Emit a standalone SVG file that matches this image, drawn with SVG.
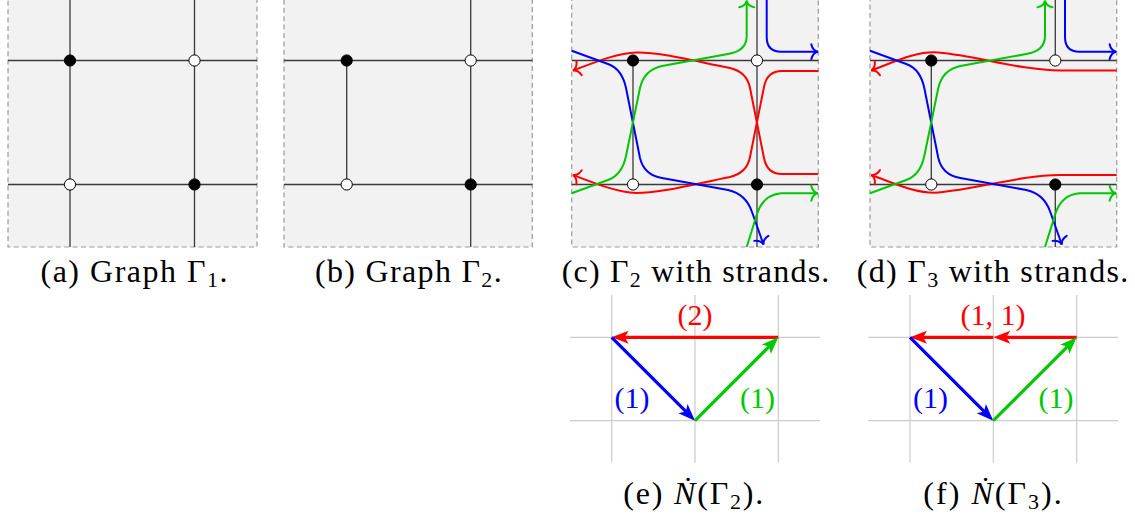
<svg xmlns="http://www.w3.org/2000/svg" width="1135" height="518" viewBox="0 0 1135 518">
<style>
.panel{fill:#f2f2f2;stroke:#9a9a9a;stroke-width:1.2;stroke-dasharray:5 3.4}
.edge{fill:none;stroke:#3a3a3a;stroke-width:1.3}
.vb{fill:#000;stroke:#000;stroke-width:1}
.vw{fill:#fff;stroke:#000;stroke-width:1}
.s{fill:none;stroke-width:2;stroke-linejoin:round}
.sr{stroke:#ff0000;marker-end:url(#toR)}
.sb{stroke:#0000ff;marker-end:url(#toB)}
.sg{stroke:#00c800;marker-end:url(#toG)}
.grid{fill:none;stroke:#cccccc;stroke-width:1.2}
.vec{fill:none;stroke-width:3.2}
.cap{font-family:"Liberation Serif","DejaVu Serif",serif;font-size:32px;fill:#000}
.lab{font-family:"Liberation Serif","DejaVu Serif",serif;font-size:30px;text-anchor:middle}
</style>
<defs>
<marker id="toR" viewBox="-8 -9 10 18" markerWidth="10" markerHeight="18" refX="0" refY="0" orient="auto" markerUnits="userSpaceOnUse"><path d="M-6.5 -7.5 C-5.5 -3 -2.5 -0.6 0 0 C-2.5 0.6 -5.5 3 -6.5 7.5" fill="none" stroke="#ff0000" stroke-width="2" stroke-linecap="round"/></marker>
<marker id="toB" viewBox="-8 -9 10 18" markerWidth="10" markerHeight="18" refX="0" refY="0" orient="auto" markerUnits="userSpaceOnUse"><path d="M-6.5 -7.5 C-5.5 -3 -2.5 -0.6 0 0 C-2.5 0.6 -5.5 3 -6.5 7.5" fill="none" stroke="#0000ff" stroke-width="2" stroke-linecap="round"/></marker>
<marker id="toG" viewBox="-8 -9 10 18" markerWidth="10" markerHeight="18" refX="0" refY="0" orient="auto" markerUnits="userSpaceOnUse"><path d="M-6.5 -7.5 C-5.5 -3 -2.5 -0.6 0 0 C-2.5 0.6 -5.5 3 -6.5 7.5" fill="none" stroke="#00c800" stroke-width="2" stroke-linecap="round"/></marker>
<marker id="stR" viewBox="-12 -7 20 14" markerWidth="20" markerHeight="14" refX="0" refY="0" orient="auto" markerUnits="userSpaceOnUse"><path d="M6 0 L-11 -6.5 L-7 0 L-11 6.5 Z" fill="#ff0000"/></marker>
<marker id="stB" viewBox="-12 -7 20 14" markerWidth="20" markerHeight="14" refX="0" refY="0" orient="auto" markerUnits="userSpaceOnUse"><path d="M6 0 L-11 -6.5 L-7 0 L-11 6.5 Z" fill="#0000ff"/></marker>
<marker id="stG" viewBox="-12 -7 20 14" markerWidth="20" markerHeight="14" refX="0" refY="0" orient="auto" markerUnits="userSpaceOnUse"><path d="M6 0 L-11 -6.5 L-7 0 L-11 6.5 Z" fill="#00c800"/></marker>
</defs>
<rect width="1135" height="518" fill="#fff"/>

<!-- (a) -->
<g id="panel-a">
<rect class="panel" x="8" y="-5" width="249" height="252"/>
<g id="edges-a">
<path class="edge" d="M8 60.5 H257 M8 184.5 H257 M70 0 V247 M194.5 0 V247"/>
</g>
<g id="a-v1"><circle class="vb" cx="70" cy="60.5" r="5.6"/></g>
<g id="a-v2"><circle class="vw" cx="194.5" cy="60.5" r="5.6"/></g>
<g id="a-v3"><circle class="vw" cx="70" cy="184.5" r="5.6"/></g>
<g id="a-v4"><circle class="vb" cx="194.5" cy="184.5" r="5.6"/></g>
<text class="cap" x="40.5" y="282" textLength="187" lengthAdjust="spacing">(a) Graph Γ<tspan dy="5" font-size="22">1</tspan><tspan dy="-5">.</tspan></text>
</g>

<!-- (b) -->
<g id="panel-b">
<rect class="panel" x="284" y="-5" width="248.3" height="252"/>
<g id="edges-b">
<path class="edge" d="M284 60.5 H532.3 M284 184.5 H532.3 M346.7 60.5 V184.5 M470.7 0 V247"/>
</g>
<g id="b-v1"><circle class="vb" cx="346.7" cy="60.5" r="5.6"/></g>
<g id="b-v2"><circle class="vw" cx="470.7" cy="60.5" r="5.6"/></g>
<g id="b-v3"><circle class="vw" cx="346.7" cy="184.5" r="5.6"/></g>
<g id="b-v4"><circle class="vb" cx="470.7" cy="184.5" r="5.6"/></g>
<text class="cap" x="315" y="282" textLength="186.7" lengthAdjust="spacing">(b) Graph Γ<tspan dy="5" font-size="22">2</tspan><tspan dy="-5">.</tspan></text>
</g>

<!-- (c) -->
<g id="panel-c">
<rect class="panel" x="571.7" y="-5" width="246.6" height="252"/>
<g id="edges-c">
<path class="edge" d="M571.7 60.5 H818.3 M571.7 184.5 H818.3 M633 60.5 V184.5 M757 0 V247"/>
</g>
<g id="strands-c">
<path class="s sr" d="M818.3 174 L782 174 Q767 174 764 158 L750 88 Q747 72 730 68 C690 60 660 52 636 52.5 C618 53 598 61 573 70.5"/>
<path class="s sr" d="M818.3 71 L782 71 Q767 71 764 87 L750 157 Q747 173 730 177 C690 185 660 193 636 193 C618 192.5 598 184.5 573 175"/>
<path class="s sb" d="M571.7 50.7 L608 64 Q622 69 626 88 L640 158 Q644 175 662 178 L728 190 Q746 194 752 212 L763.5 244.5"/>
<path class="s sg" d="M571.7 193.3 L608 180 Q622 175 626 156 L640 88 Q644 70 662 66 L728 54 Q746.7 51 746.7 36 L746.7 0.8"/>
<path class="s sb" d="M766.7 0 L766.7 37 Q766.7 51.7 781 51.7 L817.8 51.7"/>
<path class="s sg" d="M746.7 247 L757 214 Q763 195 781 193.3 L817.8 193.3"/>
</g>
<g id="c-v1"><circle class="vb" cx="633" cy="60.5" r="5.6"/></g>
<g id="c-v2"><circle class="vw" cx="757" cy="60.5" r="5.6"/></g>
<g id="c-v3"><circle class="vw" cx="633" cy="184.5" r="5.6"/></g>
<g id="c-v4"><circle class="vb" cx="757" cy="184.5" r="5.6"/></g>
<text class="cap" x="561.7" y="282" textLength="267.6" lengthAdjust="spacing">(c) Γ<tspan dy="5" font-size="22">2</tspan><tspan dy="-5"> with strands.</tspan></text>
</g>

<!-- (d) -->
<g id="panel-d">
<rect class="panel" x="870" y="-5" width="246.7" height="252"/>
<g id="edges-d">
<path class="edge" d="M870 60.5 H1116.7 M870 184.5 H1116.7 M931.3 60.5 V184.5 M1055.3 0 V60.5 M1055.3 184.5 V247"/>
</g>
<g id="strands-d" transform="translate(298.3 0)">
<path class="s sr" d="M818.4 70.5 L762 70.5 C720 70 680 56 640 52.5 C618 51 598 61 573 70.5"/>
<path class="s sr" d="M818.4 175 L762 175 C720 175.5 680 189 640 192.5 C618 194 598 184 573 175"/>
<path class="s sb" d="M571.7 50.7 L608 64 Q622 69 626 88 L640 158 Q644 175 662 178 L728 190 Q746 194 752 212 L763.5 244.5"/>
<path class="s sg" d="M571.7 193.3 L608 180 Q622 175 626 156 L640 88 Q644 70 662 66 L728 54 Q746.7 51 746.7 36 L746.7 0.8"/>
<path class="s sb" d="M766.7 0 L766.7 37 Q766.7 51.7 781 51.7 L817.8 51.7"/>
<path class="s sg" d="M746.7 247 L757 214 Q763 195 781 193.3 L817.8 193.3"/>
</g>
<g id="d-v1"><circle class="vb" cx="931.3" cy="60.5" r="5.6"/></g>
<g id="d-v2"><circle class="vw" cx="1055.3" cy="60.5" r="5.6"/></g>
<g id="d-v3"><circle class="vw" cx="931.3" cy="184.5" r="5.6"/></g>
<g id="d-v4"><circle class="vb" cx="1055.3" cy="184.5" r="5.6"/></g>
<text class="cap" x="856.7" y="282" textLength="271.6" lengthAdjust="spacing">(d) Γ<tspan dy="5" font-size="22">3</tspan><tspan dy="-5"> with strands.</tspan></text>
</g>

<!-- (e) -->
<g id="panel-e">
<path class="grid" d="M611.7 295 V462.7 M695 295 V462.7 M778.3 295 V462.7 M570 337.3 H820 M570 420.7 H820"/>
<g id="vectors-e">
<path class="vec" stroke="#ff0000" marker-end="url(#stR)" d="M778.3 337.3 L617.7 337.3"/>
<path class="vec" stroke="#0000ff" marker-end="url(#stB)" d="M611.7 337.3 L690.76 416.46"/>
<path class="vec" stroke="#00c800" marker-end="url(#stG)" d="M695 420.7 L774.06 341.54"/>
</g>
<text class="lab" x="695" y="325" fill="#ff0000">(2)</text>
<text class="lab" x="632" y="408" fill="#0000ff">(1)</text>
<text class="lab" x="757.5" y="408" fill="#00c800">(1)</text>
<text class="cap" x="623.3" y="504" textLength="140" lengthAdjust="spacing">(e) <tspan font-style="italic">Ṅ</tspan>(Γ<tspan dy="5" font-size="22">2</tspan><tspan dy="-5">).</tspan></text>
</g>

<!-- (f) -->
<g id="panel-f">
<path class="grid" d="M910 295 V462.7 M993.3 295 V462.7 M1076.7 295 V462.7 M868.3 337.3 H1118.3 M868.3 420.7 H1118.3"/>
<g id="vectors-f">
<path class="vec" stroke="#ff0000" marker-end="url(#stR)" d="M1076.7 337.3 L999.3 337.3"/>
<path class="vec" stroke="#ff0000" marker-end="url(#stR)" d="M993.3 337.3 L916 337.3"/>
<path class="vec" stroke="#0000ff" marker-end="url(#stB)" d="M910 337.3 L989.06 416.46"/>
<path class="vec" stroke="#00c800" marker-end="url(#stG)" d="M993.3 420.7 L1072.46 341.54"/>
</g>
<text class="lab" x="993" y="325" fill="#ff0000">(1, 1)</text>
<text class="lab" x="930.5" y="408" fill="#0000ff">(1)</text>
<text class="lab" x="1056" y="408" fill="#00c800">(1)</text>
<text class="cap" x="923.3" y="504" textLength="138.4" lengthAdjust="spacing">(f) <tspan font-style="italic">Ṅ</tspan>(Γ<tspan dy="5" font-size="22">3</tspan><tspan dy="-5">).</tspan></text>
</g>
</svg>
